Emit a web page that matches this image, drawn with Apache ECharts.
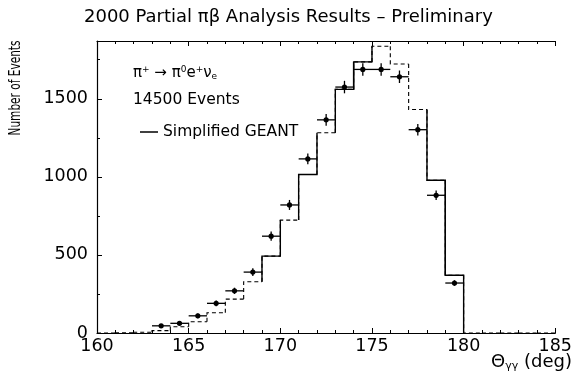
<!DOCTYPE html>
<html>
<head>
<meta charset="utf-8">
<script src="https://cdn.jsdelivr.net/npm/echarts@6/dist/echarts.min.js"></script>
<style>html,body{margin:0;padding:0;background:#fff;}#chart{width:575px;height:383px;}</style>
</head>
<body>
<div id="chart"></div>
<script>
// Histogram bins (left edges, 1 deg wide)
const binLeft = [160,161,162,163,164,165,166,167,168,169,170,171,172,173,174,175,176,177,178,179,180,181,182,183,184];
// Dashed MC histogram (full outline)
const mcDashed = [0,2,5,15,40,72,130,217,328,492,723,1015,1282,1560,1736,1836,1723,1431,978,370,0,0,0,0,0];
// Simplified GEANT (solid) – visible solid tops
const mcSolid = [null,null,null,null,null,null,null,null,null,492,null,1015,null,1560,1736,null,null,null,978,370,null,null,null,null,null];
// Data points
const dataX = [163.5,164.5,165.5,166.5,167.5,168.5,169.5,170.5,171.5,172.5,173.5,174.5,175.5,176.5,177.5,178.5,179.5];
const dataY = [46,62,110,190,270,390,620,820,1115,1365,1575,1688,1688,1641,1302,882,320];
const dataErr = [10,12,15,18,20,25,30,32,35,38,40,40,40,40,37,30,18];
const binWidth = 1;

const chart = echarts.init(document.getElementById('chart'), null, {renderer:'canvas'});
const FONT = 'DejaVu Sans';

function histItems(vals){
  return binLeft.map((l,i)=>[l, l+binWidth, vals[i]]);
}
function renderHist(vals, dashed){
  return function(params, api){
    const i = params.dataIndex;
    const v = vals[i];
    if (v === null || v === undefined) return;
    const l = binLeft[i], r = l + binWidth;
    const prev = i > 0 ? mcDashed[i-1] : 0;
    const next = i < mcDashed.length-1 ? mcDashed[i+1] : 0;
    let pts;
    if (dashed) {
      pts = [api.coord([l, prev]), api.coord([l, v]), api.coord([r, v])];
      if (i === vals.length-1) pts.push(api.coord([r, 0]));
    } else {
      pts = [api.coord([l, prev]), api.coord([l, v]), api.coord([r, v]), api.coord([r, next])];
    }
    return {type:'polyline', shape:{points:pts},
      style:{stroke:'#000', fill:null, lineWidth: dashed?1.1:1.4, lineDash: dashed?[4,3]:null}};
  };
}
function renderPoints(params, api){
  const x = api.value(0), y = api.value(1), e = api.value(2);
  const pL = api.coord([x-binWidth/2, y]), pR = api.coord([x+binWidth/2, y]);
  const pT = api.coord([x, y+e]), pB = api.coord([x, y-e]);
  const c = api.coord([x, y]);
  return {type:'group', children:[
    {type:'line', shape:{x1:pL[0],y1:pL[1],x2:pR[0],y2:pR[1]}, style:{stroke:'#000',lineWidth:1.3}},
    {type:'line', shape:{x1:pT[0],y1:pT[1],x2:pB[0],y2:pB[1]}, style:{stroke:'#000',lineWidth:1.3}},
    {type:'circle', shape:{cx:c[0],cy:c[1],r:2.6}, style:{fill:'#000'}}
  ]};
}

const axisCommon = {
  type:'value', min:160, max:185, interval:5,
  axisLine:{show:true, lineStyle:{color:'#000', width:1.2}},
  axisTick:{show:true, inside:true, length:5, lineStyle:{color:'#000'}},
  minorTick:{show:true, splitNumber:5, length:3, lineStyle:{color:'#000'}},
  splitLine:{show:false}
};

chart.setOption({
  animation:false,
  backgroundColor:'#fff',
  grid:{left:97, right:19, top:41, bottom:50, containLabel:false},
  xAxis:[
    Object.assign({}, axisCommon, {position:'bottom',
      axisLabel:{show:true, color:'#000', fontFamily:FONT, fontSize:17.5, margin:4}}),
    Object.assign({}, axisCommon, {position:'top', axisLabel:{show:false}})
  ],
  yAxis:{
    type:'value', min:0, max:1870, interval:500,
    axisLine:{show:true, lineStyle:{color:'#000', width:1.2}},
    axisTick:{show:true, inside:true, length:5, lineStyle:{color:'#000'}},
    minorTick:{show:true, splitNumber:2, length:3, lineStyle:{color:'#000'}},
    splitLine:{show:false},
    axisLabel:{color:'#000', fontFamily:FONT, fontSize:17.5, margin:9, showMaxLabel:false,
      formatter:(v)=>String(v)}
  },
  legend:{
    show:true, data:['Simplified GEANT'], left:135, top:119, icon:'rect',
    itemWidth:18, itemHeight:1.5, itemGap:6,
    textStyle:{color:'#000', fontFamily:FONT, fontSize:15.5}
  },
  series:[
    {type:'custom', name:'MC', data:histItems(mcDashed), encode:{x:[0,1], y:2},
      renderItem:renderHist(mcDashed, true), clip:true, silent:true},
    {type:'custom', name:'Simplified GEANT', data:histItems(mcSolid), encode:{x:[0,1], y:2},
      renderItem:renderHist(mcSolid, false), clip:true, itemStyle:{color:'#000'}, silent:true},
    {type:'custom', name:'Data', data:dataX.map((x,i)=>[x, dataY[i], dataErr[i]]),
      encode:{x:0, y:1}, renderItem:renderPoints, clip:false, silent:true}
  ],
  graphic:[
    {type:'text', x:84, y:17, style:{text:'2000 Partial πβ Analysis Results – Preliminary',
      font:'18px "DejaVu Sans"', fill:'#000', verticalAlign:'middle'}},
    {type:'text', x:16, y:88, rotation:Math.PI/2, scaleX:0.68, style:{text:'Number of Events',
      font:'15.5px "DejaVu Sans"', fill:'#000', align:'center', verticalAlign:'middle'}},
    {type:'text', x:133, y:65, style:{
      text:'π{sup|+} → π{sup|0}e{sup|+}ν{sub|e}',
      font:'15px "DejaVu Sans"', fill:'#000',
      rich:{sup:{fontSize:9, padding:[0,0,7,0], fontFamily:FONT, fill:'#000'},
            sub:{fontSize:9, padding:[7,0,0,0], fontFamily:FONT, fill:'#000'}}}},
    {type:'text', x:133, y:92, style:{text:'14500 Events', font:'15.5px "DejaVu Sans"', fill:'#000'}},
    {type:'text', x:572, y:362, style:{text:'Θ{sub|γγ} (deg)', font:'18px "DejaVu Sans"', fill:'#000',
      align:'right', verticalAlign:'middle',
      rich:{sub:{fontSize:11, padding:[8,0,0,0], fontFamily:FONT, fill:'#000'}}}}
  ]
});
</script>
</body>
</html>
